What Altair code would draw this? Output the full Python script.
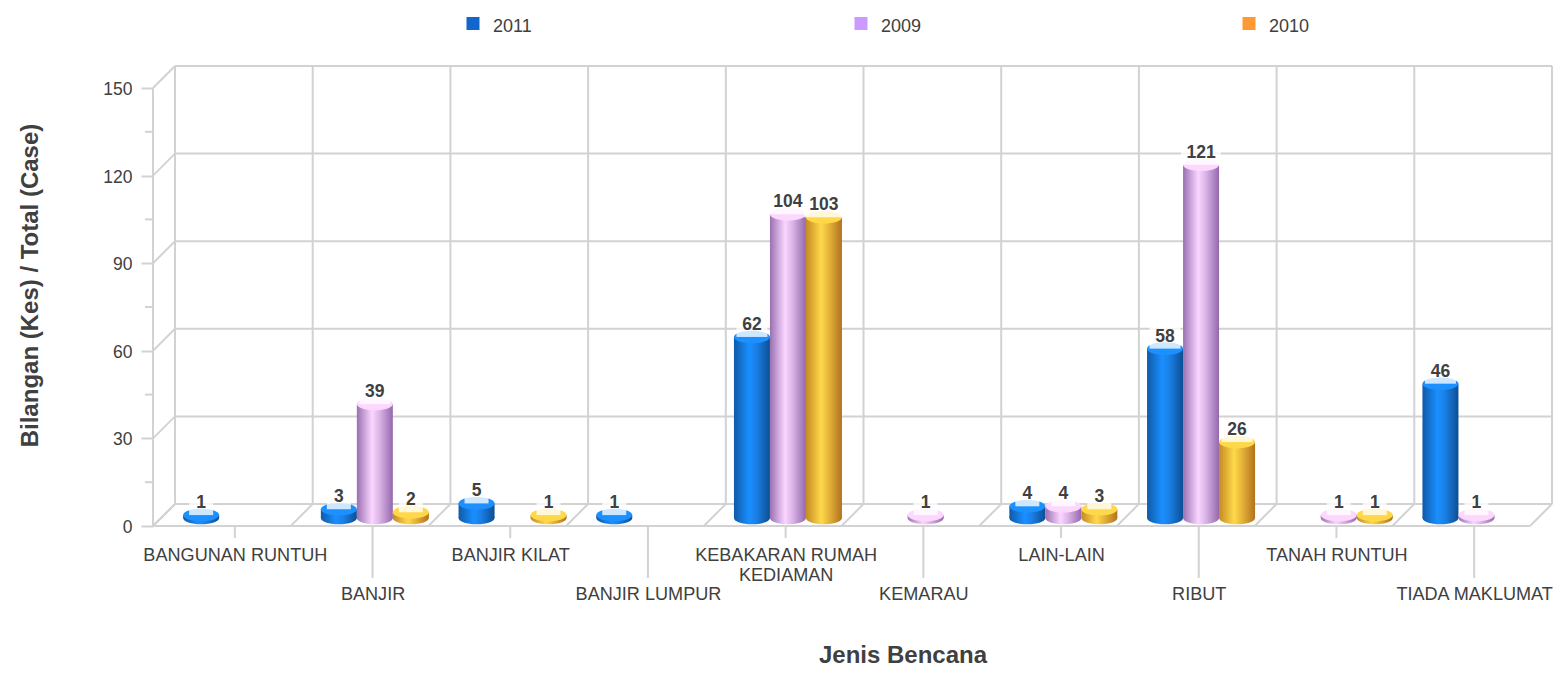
import altair as alt
import pandas as pd

categories = ["BANGUNAN RUNTUH", "BANJIR", "BANJIR KILAT", "BANJIR LUMPUR",
              "KEBAKARAN RUMAH\nKEDIAMAN", "KEMARAU", "LAIN-LAIN", "RIBUT",
              "TANAH RUNTUH", "TIADA MAKLUMAT"]
series_names = ["2011", "2009", "2010"]
values_2011 = [1, 3, 5, 1, 62, None, 4, 58, None, 46]
values_2009 = [None, 39, None, None, 104, 1, 4, 121, 1, 1]
values_2010 = [None, 2, 1, None, 103, None, 3, 26, 1, None]
legend_colors = ["#1166cc", "#cc99ff", "#ff9933"]
y_major = [0, 30, 60, 90, 120, 150]
y_minor = [15, 45, 75, 105, 135]

FONT = "Liberation Sans"
GRID = "#d2d2d2"
TXT = "#404040"
W, H = 1377, 438
DEPTH = 22
BAR_DX, BAR_DY = 15, -8
BAR_W = 36 / (W / 10)
SIDE = 0.11

x_scale = alt.Scale(domain=[0, 10], range=[0, W], nice=False, zero=False)
y_scale = alt.Scale(domain=[0, 150], range=[H, 0], nice=False, zero=False)
n = len(categories)


def grad(stops):
    return alt.Gradient(gradient="linear", x1=0, x2=1, y1=0, y2=0,
                        stops=[alt.GradientStop(offset=o, color=c) for o, c in stops])


styles = [
    dict(body=[(0, "#0f5aa8"), (0.42, "#1a8fff"), (0.62, "#1a80e6"), (1, "#0c4e94")], top="#1c90ff"),
    dict(body=[(0, "#9a70b2"), (0.42, "#fad6ff"), (0.62, "#dcb6e8"), (1, "#9468ac")], top="#fcd8ff"),
    dict(body=[(0, "#c48a24"), (0.42, "#ffd94a"), (0.62, "#e8b63a"), (1, "#b2721e")], top="#ffd84a"),
]

rows = []
for k, (name, vals) in enumerate(zip(series_names, [values_2011, values_2009, values_2010])):
    for i, v in enumerate(vals):
        if v is not None:
            left = i + SIDE + k * BAR_W
            rows.append(dict(series=name, k=k, v=v, base=0, left=left, right=left + BAR_W,
                             mid=left + BAR_W / 2, digits=len(str(v))))
bars = pd.DataFrame(rows)

X = alt.X("x:Q", scale=x_scale)
Y = alt.Y("y:Q", scale=y_scale)

# ---- 3D frame -----------------------------------------------------------
ydf = pd.DataFrame({"y": y_major})
xdf = pd.DataFrame({"x": list(range(n + 1))})
line = dict(color=GRID, strokeWidth=2)

axis_layer = alt.Chart(ydf).mark_rule(**line).encode(
    x=alt.X("x0:Q", scale=x_scale, axis=alt.Axis(
        labels=False, ticks=False, domain=False, grid=False, title="Jenis Bencana",
        titleFont=FONT, titleFontSize=24, titleFontWeight="bold", titleColor=TXT,
        titleX=749.5, titleY=129, titleBaseline="middle", titleAlign="center")),
    x2=alt.X2("x1:Q"),
    y=alt.Y("y:Q", scale=y_scale, axis=alt.Axis(
        values=y_major, tickSize=12, tickColor=GRID, tickWidth=2, domain=False, grid=False,
        labelFont=FONT, labelFontSize=17.5, labelColor=TXT, labelPadding=9, labelOffset=1.5,
        title="Bilangan (Kes) / Total (Case)", titleFont=FONT, titleFontSize=24,
        titleFontWeight="bold", titleColor=TXT, titleX=-123, titleY=197,
        titleAlign="center", titleBaseline="middle")),
).transform_calculate(x0="0", x1="0")

back_h = alt.Chart(ydf).mark_rule(xOffset=DEPTH, x2Offset=DEPTH, yOffset=-DEPTH, **line).encode(
    x=alt.datum(0, scale=x_scale, type="quantitative"),
    x2=alt.datum(10), y=Y)
back_v = alt.Chart(xdf).mark_rule(xOffset=DEPTH, yOffset=-DEPTH, y2Offset=-DEPTH, **line).encode(
    x=X, y=alt.datum(0, scale=y_scale, type="quantitative"), y2=alt.datum(150))
left_slant = alt.Chart(ydf).mark_rule(x2Offset=DEPTH, y2Offset=-DEPTH, **line).encode(
    x=alt.datum(0, scale=x_scale, type="quantitative"), x2=alt.datum(0), y=Y, y2=alt.Y2("y:Q"))
floor_slant = alt.Chart(xdf).mark_rule(x2Offset=DEPTH, y2Offset=-DEPTH, **line).encode(
    x=X, x2=alt.X2("x:Q"), y=alt.datum(0, scale=y_scale, type="quantitative"), y2=alt.datum(0))
front_floor = alt.Chart(xdf.head(1)).mark_rule(**line).encode(
    x=alt.datum(0, scale=x_scale, type="quantitative"), x2=alt.datum(10),
    y=alt.datum(0, scale=y_scale, type="quantitative"))
left_edge = alt.Chart(xdf.head(1)).mark_rule(**line).encode(
    x=alt.datum(0, scale=x_scale, type="quantitative"),
    y=alt.datum(0, scale=y_scale, type="quantitative"), y2=alt.datum(150))
minor = alt.Chart(pd.DataFrame({"y": y_minor})).mark_rule(xOffset=-8, **line).encode(
    x=alt.datum(0, scale=x_scale, type="quantitative"), x2=alt.datum(0), y=Y)

# ---- category labels and staggered ticks ---------------------------------
cdf = pd.DataFrame({"cat": categories, "x": [i + 0.5 for i in range(n)], "row": [i % 2 for i in range(n)]})
layers = [back_h, back_v, left_slant, floor_slant, front_floor, left_edge, minor, axis_layer]
for row, tick_len, text_y in [(0, 12, 459), (1, 52, 498)]:
    sub = cdf[cdf.row == row]
    layers.append(alt.Chart(sub).mark_rule(xOffset=13, x2Offset=13, **line).encode(
        x=X, y=alt.value(H), y2=alt.value(H + tick_len)))
    layers.append(alt.Chart(sub).mark_text(
        xOffset=13.5, font=FONT, fontSize=18.1, color=TXT, baseline="top", align="center",
        lineBreak="\n", lineHeight=19.5).encode(x=X, y=alt.value(text_y), text="cat:N"))

# ---- cylinders -----------------------------------------------------------
ELLIPSE = "M -1 0 A 1 0.35 0 1 0 1 0 A 1 0.35 0 1 0 -1 0 Z"
SIZE = 36 ** 2
for k, st in enumerate(styles):
    d = bars[bars.k == k]
    g = grad(st["body"])
    c = alt.Chart(d)
    mx = alt.X("mid:Q", scale=x_scale)
    layers.append(c.mark_point(shape=ELLIPSE, size=SIZE, filled=True, fill=g, opacity=1, strokeWidth=0,
                               xOffset=BAR_DX, yOffset=BAR_DY).encode(
        x=mx, y=alt.Y("base:Q", scale=y_scale)))
    layers.append(c.mark_rect(fill=g, xOffset=BAR_DX, x2Offset=BAR_DX, yOffset=BAR_DY, y2Offset=BAR_DY).encode(
        x=alt.X("left:Q", scale=x_scale), x2=alt.X2("right:Q"),
        y=alt.Y("v:Q", scale=y_scale), y2=alt.Y2("base:Q")))
    layers.append(c.mark_point(shape=ELLIPSE, size=SIZE, filled=True, fill=st["top"], opacity=1, strokeWidth=0,
                               xOffset=BAR_DX, yOffset=BAR_DY).encode(
        x=mx, y=alt.Y("v:Q", scale=y_scale)))

# ---- value labels with translucent backing -------------------------------
for digits, w in [(1, 24), (2, 31), (3, 40)]:
    d = bars[bars.digits == digits]
    layers.append(alt.Chart(d).mark_rect(width=w, height=22, fill="white", opacity=0.78,
                                         xOffset=BAR_DX, yOffset=BAR_DY - 11).encode(
        x=alt.X("mid:Q", scale=x_scale), y=alt.Y("v:Q", scale=y_scale)))
layers.append(alt.Chart(bars).mark_text(
    font=FONT, fontSize=17.5, fontWeight="bold", color=TXT, xOffset=BAR_DX, yOffset=BAR_DY - 12,
    baseline="middle", align="center").encode(
    x=alt.X("mid:Q", scale=x_scale), y=alt.Y("v:Q", scale=y_scale), text="v:Q"))

# ---- legend --------------------------------------------------------------
legend_df = pd.DataFrame({"series": series_names, "x": [0, 0, 0]})
layers.append(alt.Chart(legend_df).mark_point(filled=True, size=0, opacity=0).encode(
    x=X, y=alt.datum(0, scale=y_scale, type="quantitative"),
    color=alt.Color("series:N", scale=alt.Scale(domain=series_names, range=legend_colors),
                    sort=series_names,
                    legend=alt.Legend(orient="none", legendX=311, legendY=-70, columns=3, title=None,
                                      symbolType="M -1 -1.54 L 1 -1.54 L 1 0.46 L -1 0.46 Z",
                                      symbolSize=169, symbolOpacity=1,
                                      symbolStrokeWidth=0, labelFont=FONT, labelFontSize=18,
                                      labelColor=TXT, labelOffset=11, columnPadding=318,
                                      gridAlign="all"))))

chart = alt.layer(*layers).properties(
    width=W, height=H,
    padding={"left": 145, "top": 80, "right": 23, "bottom": 141},
    autosize=alt.AutoSizeParams(type="none"),
    background="white",
).configure_view(stroke=None)

chart.save("out.html", embed_options={"renderer": "svg", "actions": False})
